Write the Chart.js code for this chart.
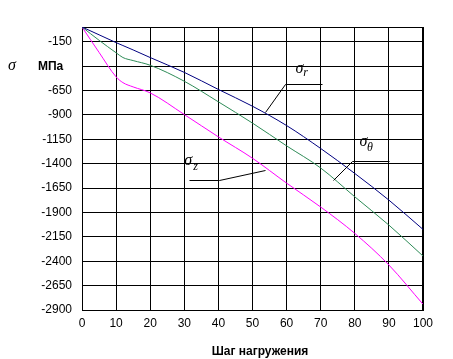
<!DOCTYPE html>
<html>
<head>
<meta charset="utf-8">
<script src="https://cdn.jsdelivr.net/npm/chart.js@4"></script>
<style>
  html, body { margin: 0; padding: 0; background: #fff; }
  #wrap { width: 453px; height: 359px; }
</style>
</head>
<body>
<div id="wrap"><canvas id="stressChart"></canvas></div>
<script>
// loading steps and stresses, MPa
const steps = [0, 5, 10, 12, 15, 20, 30, 40, 50, 60, 70, 80, 90, 100];
const sigmaR = [0, -80, -160, -190, -235, -313, -465, -640, -812, -1010, -1245, -1501, -1774, -2074];
const sigmaTheta = [0, -136, -264, -313, -344, -392, -556, -767, -985, -1218, -1445, -1740, -2030, -2347];
const sigmaZ = [0, -260, -511, -570, -614, -675, -897, -1126, -1345, -1600, -1845, -2115, -2439, -2841];

const xTicks = [0, 10, 20, 30, 40, 50, 60, 70, 80, 90, 100];
const yTicks = [0, -150, -400, -650, -900, -1150, -1400, -1650, -1900, -2150, -2400, -2650, -2900];
const yHidden = [0, -400];

const xTitle = 'Шаг нагружения';
const yUnit = 'МПа';

function toPoints(vals) {
  return steps.map((s, i) => ({ x: s, y: vals[i] }));
}

// leader lines and labels, in data units
const notes = [
  { sub: 'r', at: [62.6, -474], subAt: [64.9, -505], line: [[53.75, -876], [59.4, -579], [70.4, -579]] },
  { sub: 'θ', at: [81.4, -1221], subAt: [83.6, -1267], line: [[73.6, -1569], [79.2, -1372], [89.9, -1372]] },
  { sub: 'z', at: [30.0, -1415], subAt: [32.6, -1467], line: [[31.5, -1572], [40.3, -1572], [53.75, -1462]] }
];

const notesPlugin = {
  id: 'notes',
  afterDraw(chart) {
    const { ctx, scales: { x, y } } = chart;
    ctx.save();
    ctx.strokeStyle = '#000';
    ctx.fillStyle = '#000';
    ctx.lineWidth = 1;
    notes.forEach(n => {
      ctx.beginPath();
      n.line.forEach((p, i) => {
        const px = Math.round(x.getPixelForValue(p[0])) + 0.5;
        const py = Math.round(y.getPixelForValue(p[1])) + 0.5;
        if (i === 0) ctx.moveTo(px, py); else ctx.lineTo(px, py);
      });
      ctx.stroke();
      ctx.textBaseline = 'alphabetic';
      ctx.textAlign = 'left';
      ctx.font = 'italic 16px "Liberation Serif"';
      ctx.fillText('σ', x.getPixelForValue(n.at[0]), y.getPixelForValue(n.at[1]));
      ctx.font = 'italic 12px "Liberation Serif"';
      ctx.fillText(n.sub, x.getPixelForValue(n.subAt[0]), y.getPixelForValue(n.subAt[1]));
    });

    // y axis name, on the level of the unlabeled tick
    const yMid = y.getPixelForValue(-400);
    ctx.textBaseline = 'middle';
    ctx.font = 'italic 16px "Liberation Serif"';
    ctx.fillText('σ', 8, yMid);
    ctx.font = 'bold 12px "Liberation Sans"';
    ctx.fillText(yUnit, 38, yMid + 1);

    // x axis name
    ctx.textAlign = 'center';
    ctx.textBaseline = 'alphabetic';
    ctx.fillText(xTitle, 260, 355);
    ctx.restore();
  }
};

const mkLine = (label, vals, color) => ({
  label,
  data: toPoints(vals),
  borderColor: color,
  borderWidth: 1,
  pointRadius: 0,
  fill: false,
  cubicInterpolationMode: 'monotone'
});

new Chart(document.getElementById('stressChart').getContext('2d'), {
  type: 'line',
  data: {
    datasets: [
      mkLine('σr', sigmaR, '#000080'),
      mkLine('σθ', sigmaTheta, '#2e8b57'),
      mkLine('σz', sigmaZ, '#ff00ff')
    ]
  },
  options: {
    responsive: true,
    maintainAspectRatio: false,
    animation: false,
    layout: { padding: { top: 27, right: 30, left: 0, bottom: 0 } },
    plugins: {
      legend: { display: false },
      tooltip: { enabled: false }
    },
    scales: {
      x: {
        type: 'linear',
        min: 0,
        max: 100,
        afterBuildTicks: s => { s.ticks = xTicks.map(v => ({ value: v })); },
        afterFit: s => { s.height = 49; },
        grid: {
          color: '#000',
          lineWidth: c => (c.tick && c.tick.value === 100 ? 2 : 1),
          drawTicks: false
        },
        border: { color: '#000', width: 1 },
        ticks: {
          color: '#000',
          padding: 6,
          font: { family: 'Liberation Sans', size: 12 }
        }
      },
      y: {
        type: 'linear',
        min: -2900,
        max: 0,
        afterBuildTicks: s => { s.ticks = yTicks.map(v => ({ value: v })); },
        afterFit: s => { s.width = 82; },
        grid: { color: '#000', lineWidth: 1, drawTicks: false },
        border: { color: '#000', width: 1 },
        ticks: {
          color: '#000',
          padding: 10,
          font: { family: 'Liberation Sans', size: 12 },
          callback: v => (yHidden.includes(v) ? '' : String(v))
        }
      }
    }
  },
  plugins: [notesPlugin]
});
</script>
</body>
</html>
